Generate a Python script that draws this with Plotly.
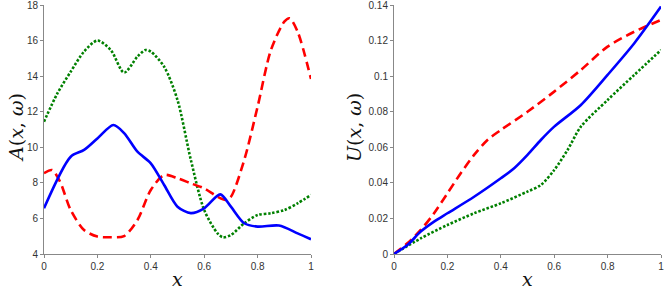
import plotly.graph_objects as go

# Left panel: A(x, w)
xa_blue = [0, 0.1, 0.15, 0.2, 0.26, 0.3, 0.35, 0.4, 0.45, 0.5, 0.55, 0.6, 0.66, 0.7, 0.75, 0.8, 0.88, 0.95, 1.0]
ya_blue = [6.57, 9.47, 9.85, 10.5, 11.25, 10.8, 9.75, 9.1, 7.88, 6.66, 6.3, 6.57, 7.35, 6.66, 5.73, 5.54, 5.6, 5.16, 4.83]

xa_red = [0, 0.03, 0.06, 0.1, 0.15, 0.2, 0.25, 0.3, 0.35, 0.4, 0.45, 0.5, 0.55, 0.6, 0.65, 0.68, 0.7, 0.75, 0.8, 0.85, 0.9, 0.92, 0.95, 1.0]
ya_red = [8.54, 8.72, 8.07, 6.47, 5.35, 4.98, 4.94, 5.01, 5.91, 7.6, 8.44, 8.26, 7.97, 7.69, 7.22, 7.04, 7.22, 9.29, 12.28, 15.47, 17.06, 17.25, 16.5, 13.84]

xa_green = [0, 0.05, 0.1, 0.15, 0.2, 0.25, 0.3, 0.35, 0.38, 0.4, 0.45, 0.5, 0.55, 0.6, 0.65, 0.67, 0.7, 0.75, 0.8, 0.85, 0.9, 0.95, 1.0]
ya_green = [11.44, 13.03, 14.25, 15.38, 16.0, 15.47, 14.2, 15.1, 15.47, 15.38, 14.53, 12.66, 9.29, 6.47, 5.16, 4.94, 5.07, 5.73, 6.19, 6.29, 6.47, 6.85, 7.32]

# Right panel: U(x, w)
xu = [0, 0.05, 0.1, 0.15, 0.2, 0.3, 0.4, 0.45, 0.5, 0.55, 0.6, 0.7, 0.8, 0.9, 1.0]
yu_blue = [0, 0.005, 0.0126, 0.0182, 0.0229, 0.0322, 0.0426, 0.0482, 0.0557, 0.0641, 0.0716, 0.0838, 0.1007, 0.1185, 0.1391]

xu_red = [0, 0.05, 0.1, 0.15, 0.2, 0.25, 0.3, 0.35, 0.4, 0.5, 0.6, 0.7, 0.8, 0.9, 1.0]
yu_red = [0, 0.006, 0.0135, 0.0229, 0.0341, 0.0454, 0.0557, 0.0641, 0.0697, 0.08, 0.0913, 0.1035, 0.1166, 0.125, 0.1316]

xu_green = [0, 0.1, 0.2, 0.3, 0.4, 0.5, 0.55, 0.6, 0.65, 0.7, 0.8, 0.9, 1.0]
yu_green = [0, 0.0088, 0.0163, 0.0229, 0.0285, 0.0351, 0.0388, 0.0472, 0.0585, 0.0716, 0.0866, 0.1007, 0.1147]

xticks = [0, 0.2, 0.4, 0.6, 0.8, 1]
xticktext = ["0", "0.2", "0.4", "0.6", "0.8", "1"]
a_ticks = [4, 6, 8, 10, 12, 14, 16, 18]
u_ticks = [0, 0.02, 0.04, 0.06, 0.08, 0.1, 0.12, 0.14]
u_ticktext = ["0", "0.02", "0.04", "0.06", "0.08", "0.1", "0.12", "0.14"]

BLUE = "#0000ff"
RED = "#ff0000"
GREEN = "#008000"

fig = go.Figure()
def add(x, y, color, dash, xa, ya):
    fig.add_trace(go.Scatter(x=x, y=y, mode="lines", xaxis=xa, yaxis=ya, cliponaxis=False,
                             line=dict(color=color, width=2.6, dash=dash, shape="spline", smoothing=0.8),
                             showlegend=False, hoverinfo="skip"))

add(xa_green, ya_green, GREEN, "2.5px,1.8px", "x", "y")
add(xa_red, ya_red, RED, "9px,5px", "x", "y")
add(xa_blue, ya_blue, BLUE, "solid", "x", "y")
add(xu_green, yu_green, GREEN, "2.5px,1.8px", "x2", "y2")
add(xu_red, yu_red, RED, "9px,5px", "x2", "y2")
add(xu, yu_blue, BLUE, "solid", "x2", "y2")

axcommon = dict(showgrid=False, zeroline=False, showline=True, linecolor="#888888", linewidth=1,
                ticks="outside", ticklen=3, tickcolor="#888888", automargin=False,
                ticklabeloverflow="allow",
                tickfont=dict(family="Liberation Sans, Arial", size=10, color="#333333"))

L, R, T, B = 44, 3, 5, 38
W = 664 - L - R
H = 292 - T - B
fig.update_layout(
    width=664, height=292, margin=dict(l=L, r=R, t=T, b=B, autoexpand=False),
    paper_bgcolor="white", plot_bgcolor="white",
    xaxis=dict(domain=[0, 267 / W], range=[0, 1], tickvals=xticks, ticktext=xticktext, anchor="y", **axcommon),
    yaxis=dict(domain=[0, 1], range=[4, 18], tickvals=a_ticks, anchor="x", **axcommon),
    xaxis2=dict(domain=[350 / W, 1], range=[0, 1], tickvals=xticks, ticktext=xticktext, anchor="y2", **axcommon),
    yaxis2=dict(domain=[0, 1], range=[0, 0.14], tickvals=u_ticks, ticktext=u_ticktext, anchor="x2", **axcommon),
)

def px(xp):
    return (xp - L) / W
def py(yp):
    return 1 - (yp - T) / H

lab = dict(family="DejaVu Serif, Liberation Serif, serif", size=19, color="#111111")
common = dict(xref="paper", yref="paper", showarrow=False, font=lab, xanchor="center", yanchor="middle")
fig.add_annotation(text="<i>A</i>(<i>x</i>, <i>ω</i>)", x=px(16), y=py(128), textangle=-90, **common)
fig.add_annotation(text="<i>U</i>(<i>x</i>, <i>ω</i>)", x=px(354), y=py(128), textangle=-90, **common)
fig.add_annotation(text="<i>x</i>", x=px(177), y=py(279), **common)
fig.add_annotation(text="<i>x</i>", x=px(527), y=py(279), **common)

fig.write_html("out.html", config={"displayModeBar": False},
               post_script="document.body.style.margin='0';document.body.style.padding='0';")
